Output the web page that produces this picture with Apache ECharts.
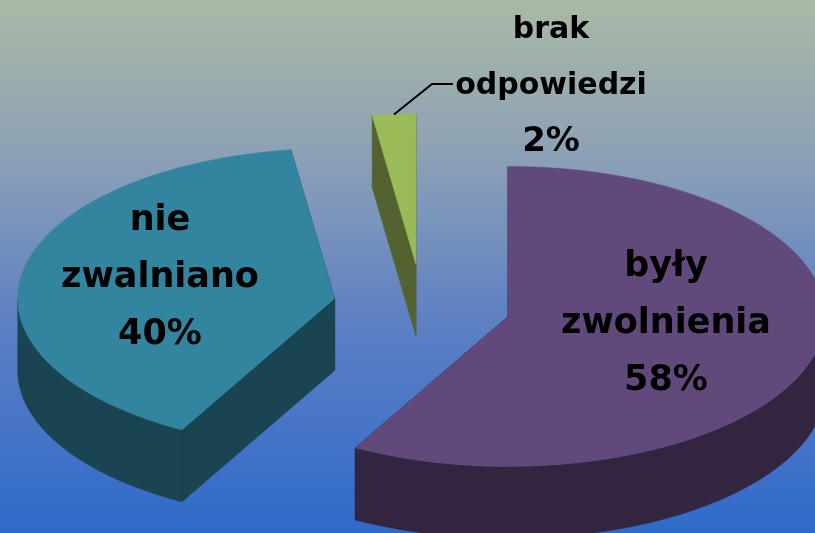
<!DOCTYPE html>
<html>
<head>
<meta charset="UTF-8">
<title>zwolnienia</title>
<style>
html,body{margin:0;padding:0;overflow:hidden;}
#main{width:815px;height:533px;}
</style>
<script src="https://cdn.jsdelivr.net/npm/echarts@6/dist/echarts.min.js"></script>
</head>
<body>
<div id="main"></div>
<script type="text/javascript">
// dane z wykresu
var categories = ['były\nzwolnienia', 'nie\nzwalniano', 'brak\nodpowiedzi'];
var values = [58, 39.8, 2.2];

// kolory: wierzch i bok kawalka
var topColors = ['#614a7b', '#33849e', '#9bbb59'];
var sideColors = ['#31253f', '#1a4451', '#53622f'];

// uklad "3d" tortu
var pie = { cx: 422, cy: 306, rx: 317, ry: 150, depth: 72, explode: 0.28 };
var labelPos = [[666, 324], [160, 278], [551, 86]];
var labelElbow = [[432, 84], [453, 84]];

var total = values.reduce(function (a, b) { return a + b; }, 0);

// kat liczony od gory, zgodnie ze wskazowkami zegara
function pt(c, a, dy) {
    return [c[0] + pie.rx * Math.sin(a), c[1] - pie.ry * Math.cos(a) + (dy || 0)];
}

function arc(c, a0, a1, dy) {
    var n = Math.max(2, Math.ceil((a1 - a0) / 0.02));
    var pts = [];
    for (var i = 0; i <= n; i++) {
        pts.push(pt(c, a0 + (a1 - a0) * i / n, dy));
    }
    return pts;
}

function poly(points, color) {
    return {
        type: 'polygon',
        shape: { points: points },
        style: { fill: color, stroke: color, lineWidth: 0.5 }
    };
}

function renderSlice(params, api) {
    var idx = params.dataIndex;
    var before = 0;
    for (var i = 0; i < idx; i++) before += values[i];
    var a0 = before / total * Math.PI * 2;
    var a1 = (before + api.value(0)) / total * Math.PI * 2;
    var mid = (a0 + a1) / 2;

    // odsuniecie kawalka wzdluz srodkowego kata
    var c = [
        pie.cx + pie.explode * pie.rx * Math.sin(mid),
        pie.cy - pie.explode * pie.ry * Math.cos(mid)
    ];
    var side = sideColors[idx];
    var children = [];

    // boki przy srodku
    [a0, a1].forEach(function (a) {
        var p = pt(c, a);
        children.push(poly([c, p, [p[0], p[1] + pie.depth], [c[0], c[1] + pie.depth]], side));
    });

    // zewnetrzna sciana, tylko przednia polowa
    var f0 = Math.max(a0, Math.PI / 2);
    var f1 = Math.min(a1, Math.PI * 1.5);
    if (f1 > f0) {
        children.push(poly(arc(c, f0, f1, 0).concat(arc(c, f0, f1, pie.depth).reverse()), side));
    }
    children.push(poly([c].concat(arc(c, a0, a1, 0)), topColors[idx]));

    var lines = categories[idx].split('\n').concat(Math.round(values[idx]) + '%');
    var lp = labelPos[idx];
    var isThin = idx === 2;
    lines.forEach(function (t, k) {
        var pct = k === lines.length - 1;
        children.push({
            type: 'text',
            z2: 10,
            style: {
                x: lp[0],
                y: lp[1] + (k - 1) * (isThin ? 56 : 57),
                text: t,
                fill: '#000',
                font: 'bold ' + (isThin ? (pct ? 34 : 30) : 35) + 'px "DejaVu Sans"',
                align: 'center',
                verticalAlign: 'middle'
            }
        });
    });

    if (isThin) {
        children.push({
            type: 'polyline',
            shape: { points: [pt(c, mid), labelElbow[0], labelElbow[1]] },
            style: { stroke: '#000', lineWidth: 2, fill: null }
        });
    }
    return { type: 'group', children: children };
}

var myChart = echarts.init(document.getElementById('main'), null, { renderer: 'canvas' });
var option = {
    animation: false,
    backgroundColor: new echarts.graphic.LinearGradient(0, 0, 0, 1, [
        { offset: 0, color: '#aab9a5' },
        { offset: 0.3, color: '#8ba0b6' },
        { offset: 0.6, color: '#5e80c4' },
        { offset: 1, color: '#2f6ac9' }
    ]),
    series: [{
        type: 'custom',
        coordinateSystem: 'none',
        renderItem: renderSlice,
        data: values.map(function (v, i) { return { name: categories[i], value: [v] }; })
    }]
};
myChart.setOption(option);
</script>
</body>
</html>
